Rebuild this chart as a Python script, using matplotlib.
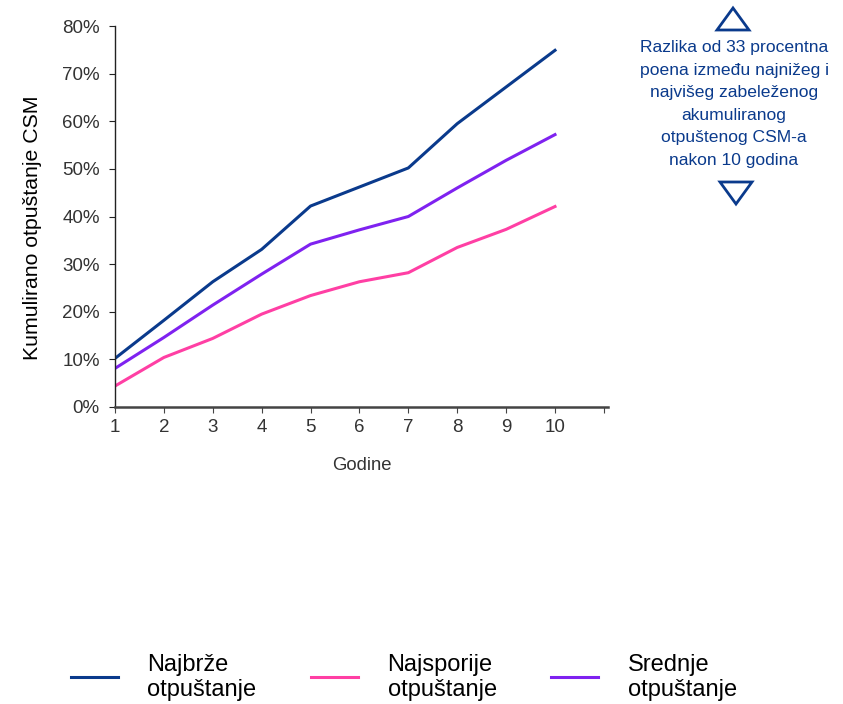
import matplotlib
matplotlib.use("Agg")
import matplotlib.pyplot as plt
from matplotlib.patches import Polygon
from matplotlib.ticker import PercentFormatter

plt.rcParams['font.family'] = ['Liberation Sans', 'DejaVu Sans']

years = [1, 2, 3, 4, 5, 6, 7, 8, 9, 10]
fastest = [10.2, 18.2, 26.3, 33.1, 42.2, 46.2, 50.2, 59.5, 67.2, 74.9]
slowest = [4.4, 10.4, 14.4, 19.5, 23.4, 26.3, 28.2, 33.5, 37.3, 42.1]
medium = [8.1, 14.6, 21.4, 27.9, 34.2, 37.2, 40.0, 46.0, 51.8, 57.2]
labels = ["Najbrže\notpuštanje", "Najsporije\notpuštanje", "Srednje\notpuštanje"]
c_fast, c_slow, c_med = "#0A3A8C", "#FF3FA4", "#7F22F0"
note_color = "#0A3A8C"
note = ("Razlika od 33 procentna\npoena između najnižeg i\nnajvišeg zabeleženog\n"
        "akumuliranog\notpuštenog CSM-a\nnakon 10 godina")

W, H = 843, 704
fig = plt.figure(figsize=(W / 100, H / 100), dpi=100)
ax = fig.add_axes([0.1364, 0.4219, 0.5846, 0.5411])

l1, = ax.plot(years, fastest, color=c_fast, lw=2.2)
l2, = ax.plot(years, slowest, color=c_slow, lw=2.2)
l3, = ax.plot(years, medium, color=c_med, lw=2.2)

ax.set_xlim(1, 11.08)
ax.set_ylim(0, 80)
ax.set_xticks(list(range(1, 12)))
ax.set_xticklabels([str(y) for y in years] + [""])
ax.set_yticks(range(0, 81, 10))
ax.yaxis.set_major_formatter(PercentFormatter(decimals=0))
for s in ("top", "right"):
    ax.spines[s].set_visible(False)
ax.spines["left"].set_color("#222222")
ax.spines["left"].set_linewidth(1.0)
ax.spines["bottom"].set_color("#444444")
ax.spines["bottom"].set_linewidth(1.8)
ax.tick_params(axis="both", direction="out", length=4, color="#444444",
               labelsize=13.5, labelcolor="#333333")
ax.tick_params(axis="y", pad=7, color="#222222")
ax.tick_params(axis="x", pad=4.5)
ax.set_xlabel("Godine", fontsize=13.3, color="#333333", labelpad=15.5)
ax.set_ylabel("Kumulirano otpuštanje CSM", fontsize=15.3, color="black")
ax.yaxis.set_label_coords(-0.148, 0.47)

# annotation
fig.text(734 / W, 1 - 104 / H, note, ha="center", va="center", color=note_color,
         fontsize=12.6, linespacing=1.62)


def tri(pts):
    return Polygon([(x / W, 1 - y / H) for x, y in pts], closed=True,
                   transform=fig.transFigure, facecolor="white",
                   edgecolor=note_color, lw=2)


fig.add_artist(tri([(717, 30), (749, 30), (733, 8)]))
fig.add_artist(tri([(720, 182), (752, 182), (736, 204)]))

fig.legend([l1, l2, l3], labels, loc="center", bbox_to_anchor=(0.479, 0.038),
           ncol=3, frameon=False, fontsize=17, handlelength=2.0,
           handletextpad=1.25, columnspacing=2.3)

fig.savefig("out.png", dpi=100)
